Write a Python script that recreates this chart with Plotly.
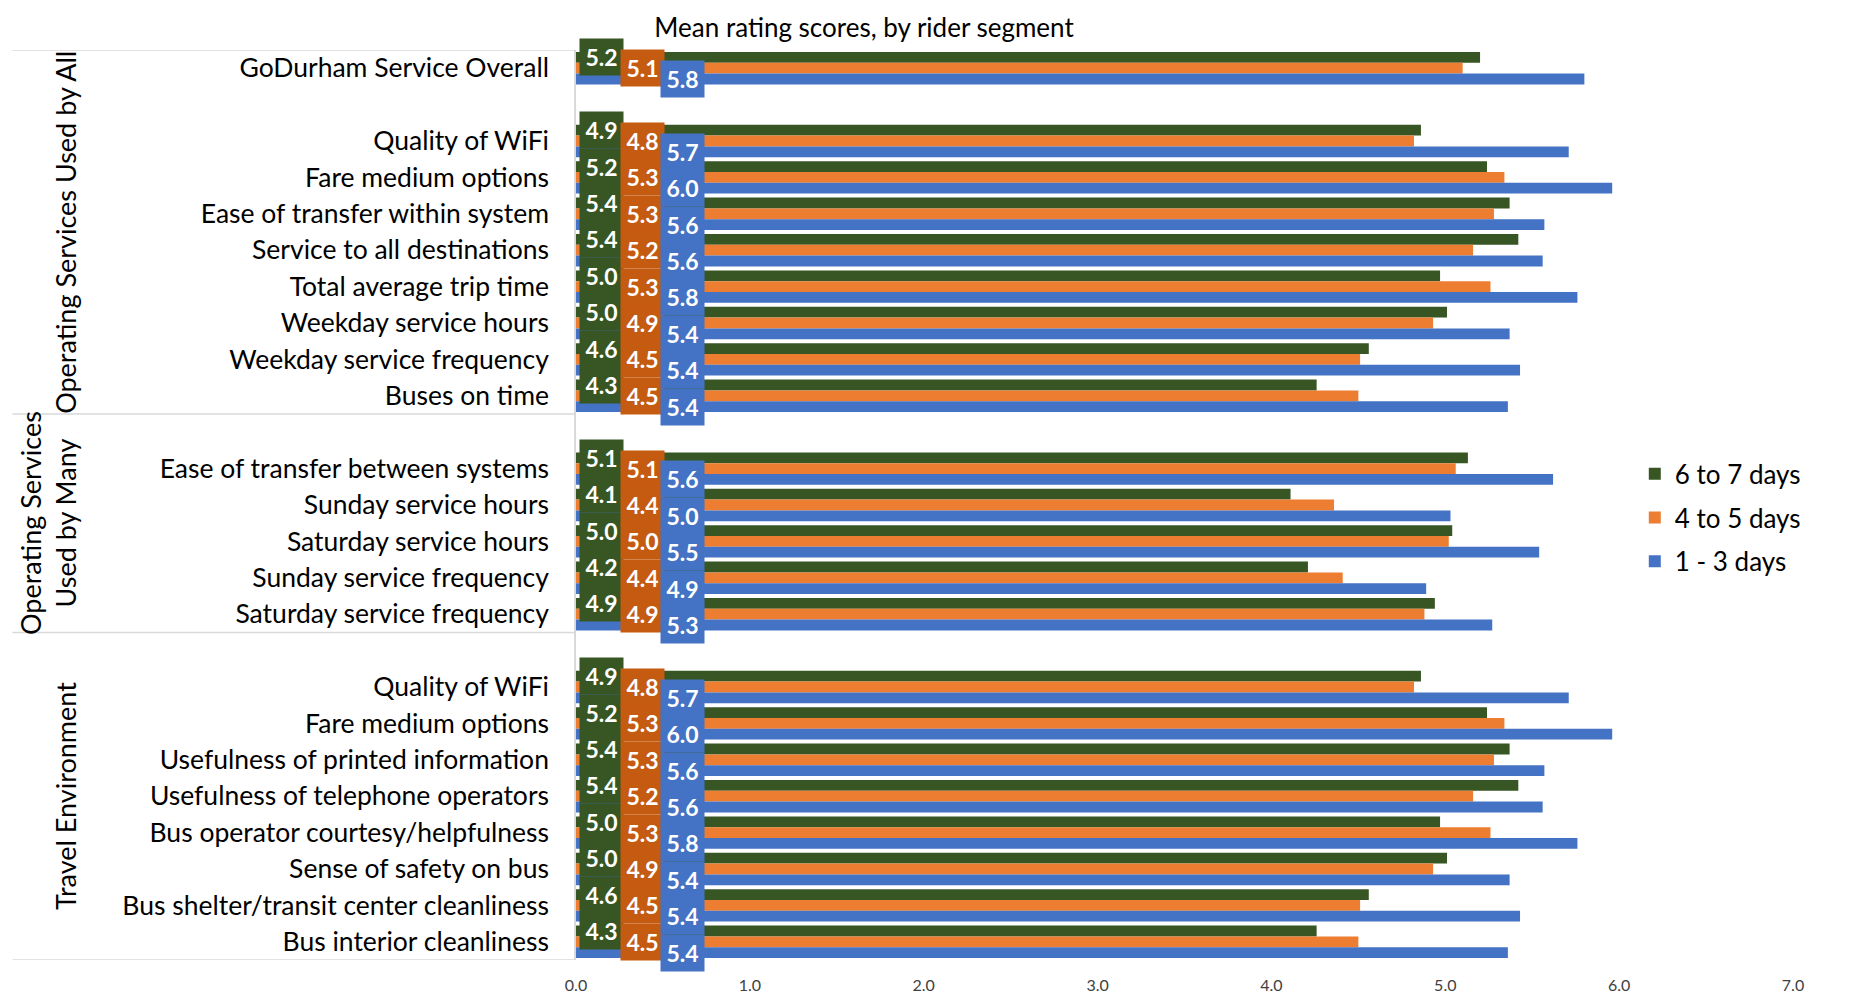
import plotly.graph_objects as go

# row labels, "" marks the spacer rows between groups
categories = [
    "GoDurham Service Overall", "",
    "Quality of WiFi", "Fare medium options", "Ease of transfer within system",
    "Service to all destinations", "Total average trip time", "Weekday service hours",
    "Weekday service frequency", "Buses on time",
    "",
    "Ease of transfer between systems", "Sunday service hours", "Saturday service hours",
    "Sunday service frequency", "Saturday service frequency",
    "",
    "Quality of WiFi", "Fare medium options", "Usefulness of printed information",
    "Usefulness of telephone operators", "Bus operator courtesy/helpfulness",
    "Sense of safety on bus", "Bus shelter/transit center cleanliness", "Bus interior cleanliness",
]

group_names = ["Operating Services Used by All", "Operating Services<br>Used by Many", "Travel Environment"]
group_rows = [10, 6, 9]  # rows per group, spacer included

series_names = ["6 to 7 days", "4 to 5 days", "1 - 3 days"]
days_6_7 = [5.20, None, 4.86, 5.24, 5.37, 5.42, 4.97, 5.01, 4.56, 4.26,
            None, 5.13, 4.11, 5.04, 4.21, 4.94,
            None, 4.86, 5.24, 5.37, 5.42, 4.97, 5.01, 4.56, 4.26]
days_4_5 = [5.10, None, 4.82, 5.34, 5.28, 5.16, 5.26, 4.93, 4.51, 4.50,
            None, 5.06, 4.36, 5.02, 4.41, 4.88,
            None, 4.82, 5.34, 5.28, 5.16, 5.26, 4.93, 4.51, 4.50]
days_1_3 = [5.80, None, 5.71, 5.96, 5.57, 5.56, 5.76, 5.37, 5.43, 5.36,
            None, 5.62, 5.03, 5.54, 4.89, 5.27,
            None, 5.71, 5.96, 5.57, 5.56, 5.76, 5.37, 5.43, 5.36]

bar_colors = ["#375623", "#ED7D31", "#4472C4"]
label_colors = ["#375623", "#C55A11", "#4472C4"]
label_x = [0.145, 0.385, 0.61]

FONT = "Lato, Carlito, 'Liberation Sans', sans-serif"
BARGAP = 0.11

rows = list(range(len(categories)))
fig = go.Figure()
for i, (name, vals) in enumerate(zip(series_names, [days_6_7, days_4_5, days_1_3])):
    fig.add_trace(go.Bar(
        y=rows, x=vals, name=name, orientation="h",
        marker=dict(color=bar_colors[i], line=dict(width=0)),
        legendgroup=name, hoverinfo="x+name",
    ))

# value boxes near the base of each bar
annotations = []
bar_w = (1 - BARGAP) / 3
for i, vals in enumerate([days_6_7, days_4_5, days_1_3]):
    for r, v in zip(rows, vals):
        if v is None:
            continue
        annotations.append(dict(
            x=label_x[i], y=r + (i - 1) * bar_w, xref="x", yref="y",
            text=f"<b>{v:.1f}</b>", showarrow=False,
            font=dict(family=FONT, size=23, color="white"),
            bgcolor=label_colors[i], width=41, height=34,
        ))

# group labels and separator lines
group_x = [-0.42, -0.434, -0.42]
shapes = []
start = 0
for gname, n, gx in zip(group_names, group_rows, group_x):
    annotations.append(dict(
        x=gx, y=start - 0.5 + n / 2, xref="paper", yref="y",
        xanchor="center", yanchor="middle",
        text=gname, textangle=-90, showarrow=False,
        font=dict(family=FONT, size=27, color="#000000"),
    ))
    shapes.append(dict(type="line", xref="paper", yref="y",
                       x0=-0.463, x1=0, y0=start - 0.5, y1=start - 0.5,
                       line=dict(color="#D9D9D9", width=1.5)))
    start += n
shapes.append(dict(type="line", xref="paper", yref="y",
                   x0=-0.463, x1=0, y0=start - 0.5, y1=start - 0.5,
                   line=dict(color="#D9D9D9", width=1.5)))

fig.update_layout(
    width=1865, height=1002,
    margin=dict(l=568, r=80, t=42, b=50),
    paper_bgcolor="white", plot_bgcolor="white",
    barmode="group", bargap=BARGAP, bargroupgap=0,
    title=dict(text="Mean rating scores, by rider segment", x=0.459, xref="container",
               y=0.98, yref="container", xanchor="center", yanchor="middle",
               font=dict(family=FONT, size=26, color="#000000")),
    font=dict(family=FONT),
    legend=dict(x=0.87, y=0.486, xanchor="left", yanchor="middle",
                font=dict(family=FONT, size=26, color="#000000"),
                traceorder="grouped", tracegroupgap=7, bgcolor="rgba(0,0,0,0)"),
    annotations=annotations,
    shapes=shapes,
)
fig.update_xaxes(range=[0, 7], dtick=1, tickformat=".1f", showgrid=False, zeroline=False,
                 showline=False, automargin=False, ticklabelstandoff=14,
                 tickfont=dict(family=FONT, size=16, color="#404040"))
fig.update_yaxes(tickmode="array", tickvals=rows, ticktext=categories,
                 range=[len(categories) - 0.5, -0.5], showgrid=False, zeroline=False,
                 showline=True, linecolor="#D9D9D9", linewidth=1.5, ticks="",
                 automargin=False, ticklabelstandoff=20,
                 tickfont=dict(family=FONT, size=26.5, color="#000000"))

fig.write_html("out.html")
